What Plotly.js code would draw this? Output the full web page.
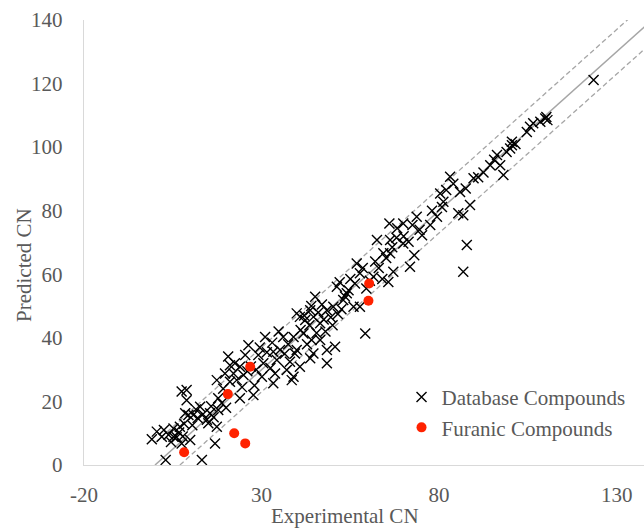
<!DOCTYPE html>
<html>
<head>
<meta charset="utf-8">
<script src="https://cdn.plot.ly/plotly-3.0.1.min.js"></script>
<style>html,body{margin:0;padding:0;background:#fff;}#chart{width:644px;height:529px;}</style>
</head>
<body>
<div id="chart"></div>
<script>
// Database compounds: experimental CN (x) vs predicted CN (y)
const dbExperimental = [
  -0.9,1.9,3.0,5.2,7.0,7.5,8.9,8.9,9.4,9.9,7.5,12.7,13.2,15.0,16.9,17.4,17.8,10.8,
  5.2,6.1,8.5,14.6,15.5,17.4,17.8,19.7,20.6,21.1,22.1,23.0,21.1,22.5,23.9,23.9,24.9,26.3,25.4,27.7,29.1,30.1,31.0,33.3,34.3,35.2,36.1,37.1,39.0,39.4,39.0,
  33.3,33.8,38.5,39.9,39.9,41.8,43.7,44.1,46.5,45.1,42.3,44.6,46.5,48.4,50.7,51.2,54.0,55.9,48.4,40.8,30.5,
  50.2,56.8,57.7,56.3,57.7,59.2,62.5,66.2,64.3,66.2,67.1,65.7,71.8,71.4,61.5,54.5,53.0,40.8,43.7,44.6,48.4,
  69.9,87.8,86.8,73.7,77.5,79.4,80.3,80.8,81.2,83.1,85.9,85.4,86.8,88.7,89.7,94.4,96.3,97.2,98.1,100.5,69.9,
  123.5,109.9,105.6,104.7,100.5,100.0,110.5,
  68.2,75.2,65.1,66.0,
  0.5,2.5,3.8,4.5,6.8,7.8,8.2,10.5,11.5,12.0,13.5,15.8,16.5,18.8,19.2,20.0,
  24.5,26.0,27.0,28.5,29.5,31.5,32.5,33.0,34.8,36.5,37.5,38.0,28.0,
  41.0,42.8,43.5,45.5,46.0,47.5,48.0,49.5,50.0,51.5,52.5,53.5,47.0,44.0,42.0,55.0,52.0,
  58.5,59.5,60.5,62.0,63.0,64.0,66.8,68.0,70.0,72.5,74.5,73.0,
  78.0,82.0,84.0,87.5,91.0,92.5,95.5,99.0,101.5,
  106.5,108.5,110.2
];
const dbPredicted = [
  8.1,8.9,1.6,8.9,12.0,23.1,23.6,20.4,15.7,7.9,6.8,18.3,1.6,13.1,6.8,26.7,17.3,15.7,
  11.5,8.7,16.3,14.2,16.3,12.0,21.0,28.8,34.1,31.4,28.8,26.7,26.2,32.0,30.9,21.0,28.3,37.7,34.6,22.0,34.6,27.8,40.3,25.7,33.0,36.2,40.3,29.9,27.8,35.1,40.3,
  35.6,28.8,26.7,36.2,47.7,41.4,33.6,39.3,39.3,52.9,45.6,46.6,44.6,48.7,37.2,56.1,54.0,49.8,36.2,30.9,32.0,
  49.8,63.4,60.3,57.1,49.8,41.4,70.8,70.8,66.6,66.6,60.8,57.6,62.4,70.2,59.2,55.0,51.9,46.6,48.7,35.1,32.0,
  69.7,69.2,60.8,78.1,75.5,78.1,85.4,81.2,82.8,90.7,85.9,79.2,78.6,81.8,90.2,94.3,97.5,94.3,91.2,100.6,76.0,
  121.1,109.0,106.4,104.8,101.7,99.6,108.5,
  74.5,72.3,65.1,76.0,
  10.5,11.0,9.5,7.2,10.2,9.0,13.0,12.5,17.5,14.8,16.0,18.5,15.0,19.5,24.0,18.0,
  24.5,29.5,31.0,30.0,37.0,35.5,30.5,38.5,42.0,35.0,38.0,32.5,25.0,
  42.5,38.0,44.0,41.5,48.0,45.8,42.0,46.5,44.0,47.5,49.0,53.0,50.5,50.0,47.0,58.5,57.5,
  62.0,55.5,58.0,64.0,62.0,58.5,68.5,71.5,72.0,75.5,74.0,66.0,
  80.0,86.5,88.5,87.0,90.5,92.0,96.0,98.5,101.0,
  107.5,108.0,109.5
];
// Furanic compounds
const furExperimental = [8.2,22.3,25.4,20.5,26.8,60.3,60.1];
const furPredicted    = [4.0,10.0,6.8,22.3,30.9,57.1,51.7];

// Reference lines: parity (y = x) and +/- 7 band
const parityX = [0, 140];
const parityY = [0, 140];
const upperX = [0, 140];
const upperY = [7, 147];
const lowerX = [7, 147];
const lowerY = [0, 140];

const xTicks = [-20, 30, 80, 130];
const yTicks = [0, 20, 40, 60, 80, 100, 120, 140];

const grey = '#595959';
const fontFam = '"Liberation Serif", "Times New Roman", serif';

const traces = [
  {x: upperX, y: upperY, mode: 'lines', line: {color: '#a6a6a6', width: 1.3, dash: '5px,3px'}, showlegend: false, hoverinfo: 'skip'},
  {x: lowerX, y: lowerY, mode: 'lines', line: {color: '#a6a6a6', width: 1.3, dash: '5px,3px'}, showlegend: false, hoverinfo: 'skip'},
  {x: parityX, y: parityY, mode: 'lines', line: {color: '#a6a6a6', width: 1.5}, showlegend: false, hoverinfo: 'skip'},
  {x: dbExperimental, y: dbPredicted, mode: 'markers', name: 'Database Compounds',
   marker: {symbol: 'x-thin', size: 10, color: '#000', line: {color: '#000', width: 1.4}}},
  {x: furExperimental, y: furPredicted, mode: 'markers', name: 'Furanic Compounds',
   marker: {symbol: 'circle', size: 10, color: '#ff2200', line: {width: 0}}}
];

const layout = {
  width: 644, height: 529,
  margin: {l: 84, r: 0, t: 20, b: 64, pad: 0},
  paper_bgcolor: '#fff', plot_bgcolor: '#fff',
  font: {family: fontFam, size: 21, color: grey},
  showlegend: true,
  legend: {x: 0.567, y: 0.198, xanchor: 'left', yanchor: 'top', bgcolor: 'rgba(0,0,0,0)',
           font: {family: fontFam, size: 21, color: grey}, tracegroupgap: 0},
  xaxis: {range: [-20, 137.7], tickvals: xTicks, ticktext: xTicks.map(String), showgrid: false, zeroline: false,
          showline: true, linecolor: '#d9d9d9', linewidth: 1.3, ticks: '', ticklabelstandoff: 10,
          tickfont: {family: fontFam, size: 21, color: grey}},
  yaxis: {range: [0, 140], tickvals: yTicks, ticktext: yTicks.map(String), showgrid: false, zeroline: false,
          showline: true, linecolor: '#d9d9d9', linewidth: 1.3, ticks: '', ticklabelstandoff: 16,
          tickfont: {family: fontFam, size: 21, color: grey}},
  annotations: [
    {text: 'Experimental CN', xref: 'paper', yref: 'paper', x: (345-84)/560, y: -(516-465)/445, xanchor: 'center', yanchor: 'middle', showarrow: false,
     font: {family: fontFam, size: 21, color: grey}},
    {text: 'Predicted CN', xref: 'paper', yref: 'paper', x: -(84-24)/560, y: (465-265)/445, xanchor: 'center', yanchor: 'middle', showarrow: false, textangle: -90,
     font: {family: fontFam, size: 21, color: grey}}
  ]
};

Plotly.newPlot('chart', traces, layout, {displayModeBar: false, staticPlot: true});
</script>
</body>
</html>
